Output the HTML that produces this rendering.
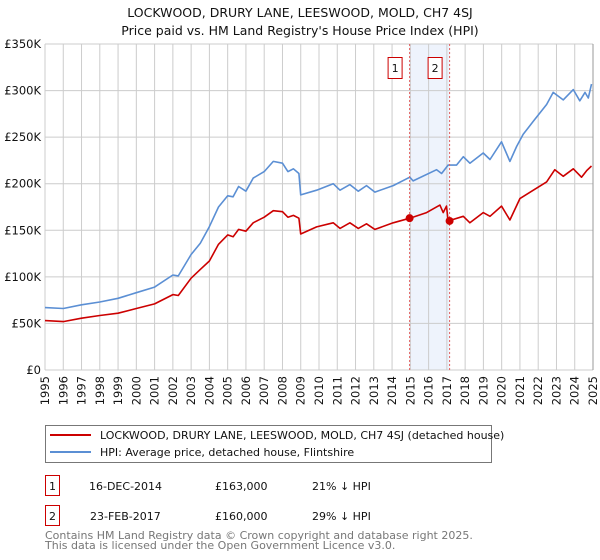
<!DOCTYPE html>
<html><head><meta charset="utf-8"><style>
body{margin:0;background:#fff;}
svg{display:block;font-family:"DejaVu Sans","Liberation Sans",sans-serif;}
</style></head><body>
<svg width="600" height="560" viewBox="0 0 600 560">
<text x="300" y="17" text-anchor="middle" font-size="12.5" fill="#111">LOCKWOOD, DRURY LANE, LEESWOOD, MOLD, CH7 4SJ</text>
<text x="300" y="35" text-anchor="middle" font-size="12.5" fill="#111">Price paid vs. HM Land Registry's House Price Index (HPI)</text>
<g id="grid"></g>
<g id="band"></g>
<g id="yaxis"></g>
<g id="xaxis"></g>
<g id="series"></g>
<g id="markers"></g>
<g>
<rect x="45.5" y="425.5" width="446" height="37" fill="#fff" stroke="#777"/>
<line x1="50" y1="435" x2="91" y2="435" stroke="#cc0000" stroke-width="2"/>
<text x="100" y="439" font-size="11" fill="#111">LOCKWOOD, DRURY LANE, LEESWOOD, MOLD, CH7 4SJ (detached house)</text>
<line x1="50" y1="452" x2="91" y2="452" stroke="#5b8fd4" stroke-width="2"/>
<text x="100" y="456" font-size="11" fill="#111">HPI: Average price, detached house, Flintshire</text>
</g>
<g font-size="11" fill="#111">
<rect x="45.5" y="475.5" width="14" height="20" fill="#fff" stroke="#cc0000"/>
<text x="52.5" y="490" text-anchor="middle">1</text>
<text x="89" y="490">16-DEC-2014</text>
<text x="215" y="490">£163,000</text>
<text x="312" y="490">21% ↓ HPI</text>
<rect x="45.5" y="505.5" width="14" height="20" fill="#fff" stroke="#cc0000"/>
<text x="52.5" y="520" text-anchor="middle">2</text>
<text x="90" y="520">23-FEB-2017</text>
<text x="215" y="520">£160,000</text>
<text x="312" y="520">29% ↓ HPI</text>
</g>
<text x="45" y="539" font-size="11" fill="#777">Contains HM Land Registry data © Crown copyright and database right 2025.</text>
<text x="45" y="549" font-size="11" fill="#777">This data is licensed under the Open Government Licence v3.0.</text>
</svg>
<script>
const yTicks=[0,50,100,150,200,250,300,350];
const yTickLabels=["£0","£50K","£100K","£150K","£200K","£250K","£300K","£350K"];
const xYears=[1995,1996,1997,1998,1999,2000,2001,2002,2003,2004,2005,2006,2007,2008,2009,2010,2011,2012,2013,2014,2015,2016,2017,2018,2019,2020,2021,2022,2023,2024,2025];
const hpiT=[1995,1996,1997,1998,1999,2000,2001,2002,2002.3,2003,2003.5,2004,2004.5,2005,2005.3,2005.6,2006,2006.4,2007,2007.5,2008,2008.3,2008.6,2008.9,2009.0,2009.87,2010.78,2011.15,2011.69,2012.15,2012.6,2013.06,2014.06,2014.97,2015.15,2016.44,2016.71,2017.07,2017.53,2017.9,2018.26,2018.99,2019.36,2019.99,2020.45,2020.82,2021.18,2021.73,2022.46,2022.82,2023.37,2023.92,2024.28,2024.56,2024.74,2024.92];
const hpiV=[67,66,70,73,77,83,89,102,101,124,136,154,175,187,186,197,192,206,213,224,222,213,216,211,188,193,200,193,199,192,198,191,198,207,203,215,211,220,220,229,222,233,226,245,224,240,253,267,285,298,290,301,289,298,292,307];
const priceT=[1995,1996,1997,1998,1999,2000,2001,2002,2002.3,2003,2003.5,2004,2004.5,2005,2005.3,2005.6,2006,2006.4,2007,2007.5,2008,2008.3,2008.6,2008.9,2009.0,2009.87,2010.78,2011.15,2011.69,2012.15,2012.6,2013.06,2014.06,2014.97,2015.89,2016.62,2016.8,2016.98,2017.07,2017.9,2018.26,2018.99,2019.36,2019.99,2020.45,2021.0,2021.73,2022.46,2022.91,2023.37,2023.92,2024.37,2024.65,2024.92];
const priceV=[53,52,55.6,58.5,61,66,71,81,80,98.6,108,117,135,145,143,151,149,158,164,171,170,164,166,163,146,153.6,158,152,158,152,157,151,158,163,169,177,169,176,160,165,158,169,165,176,161,184,193,202,215,208,216,207,214,219];
const saleT=[2014.96,2017.15];
const saleV=[163,160];
const saleLabels=["1","2"];

const NS="http://www.w3.org/2000/svg";
const X0=45,X1=593,Y0=370,Y1=44;
function xs(t){return X0+(t-1995)/30*(X1-X0);}
function ys(v){return Y0-v/350*(Y0-Y1);}
function mk(tag,attrs,parent){const e=document.createElementNS(NS,tag);for(const k in attrs)e.setAttribute(k,attrs[k]);parent.appendChild(e);return e;}
const grid=document.getElementById('grid'),yax=document.getElementById('yaxis'),xax=document.getElementById('xaxis');
const band=document.getElementById('band'),ser=document.getElementById('series'),mkr=document.getElementById('markers');

const br=mk('rect',{x:xs(saleT[0]),y:Y1,width:xs(saleT[1])-xs(saleT[0]),height:Y0-Y1,fill:'#eef3fc'},band);



yTicks.forEach((v,i)=>{
  const l=mk('line',{x1:X0,x2:X1,y1:ys(v),y2:ys(v),stroke:'#cccccc','stroke-width':1},grid);
  
  
  const t=mk('text',{x:X0-4,y:ys(v)+4,'text-anchor':'end','font-size':11.5,fill:'#111'},yax);
  t.textContent=yTickLabels[i];
  
  
});
xYears.forEach(yr=>{
  const l=mk('line',{x1:xs(yr),x2:xs(yr),y1:Y1,y2:Y0,stroke:'#cccccc','stroke-width':1},grid);
  
  
  const x=xs(yr)+4,y=376;
  const t=mk('text',{x:x,y:y,transform:`rotate(-90 ${x} ${y})`,'text-anchor':'end','font-size':11.5,fill:'#111'},xax);
  t.textContent=yr;
  
  
});
grid.parentNode.insertBefore(band,grid);

function line(T,V,color,name){
  const d=T.map((t,i)=>(i?'L':'M')+xs(t).toFixed(1)+','+ys(V[i]).toFixed(1)).join('');
  const p=mk('path',{d:d,fill:'none',stroke:color,'stroke-width':1.6,'stroke-linejoin':'round'},ser);
  
  
}
line(hpiT,hpiV,'#5b8fd4','hpi-line');
line(priceT,priceV,'#cc0000','price-paid-line');

saleT.forEach((t,i)=>{
  const l=mk('line',{x1:xs(t),x2:xs(t),y1:Y1,y2:Y0,stroke:'#e06060','stroke-width':1,'stroke-dasharray':'2,2'},mkr);
  
  
  const c=mk('circle',{cx:xs(t),cy:ys(saleV[i]),r:4,fill:'#cc0000'},mkr);
  
  
  const r=mk('rect',{x:xs(t)-21.5,y:57.5,width:14,height:21,fill:'#fff',stroke:'#cc0000'},mkr);
  
  
  const tx=mk('text',{x:xs(t)-14.5,y:72,'text-anchor':'middle','font-size':11,fill:'#111'},mkr);
  tx.textContent=saleLabels[i];
  
  
});
const re=mk('line',{x1:X1,x2:X1,y1:Y1,y2:Y0,stroke:'#999','stroke-width':1},grid);


</script>
</body></html>
